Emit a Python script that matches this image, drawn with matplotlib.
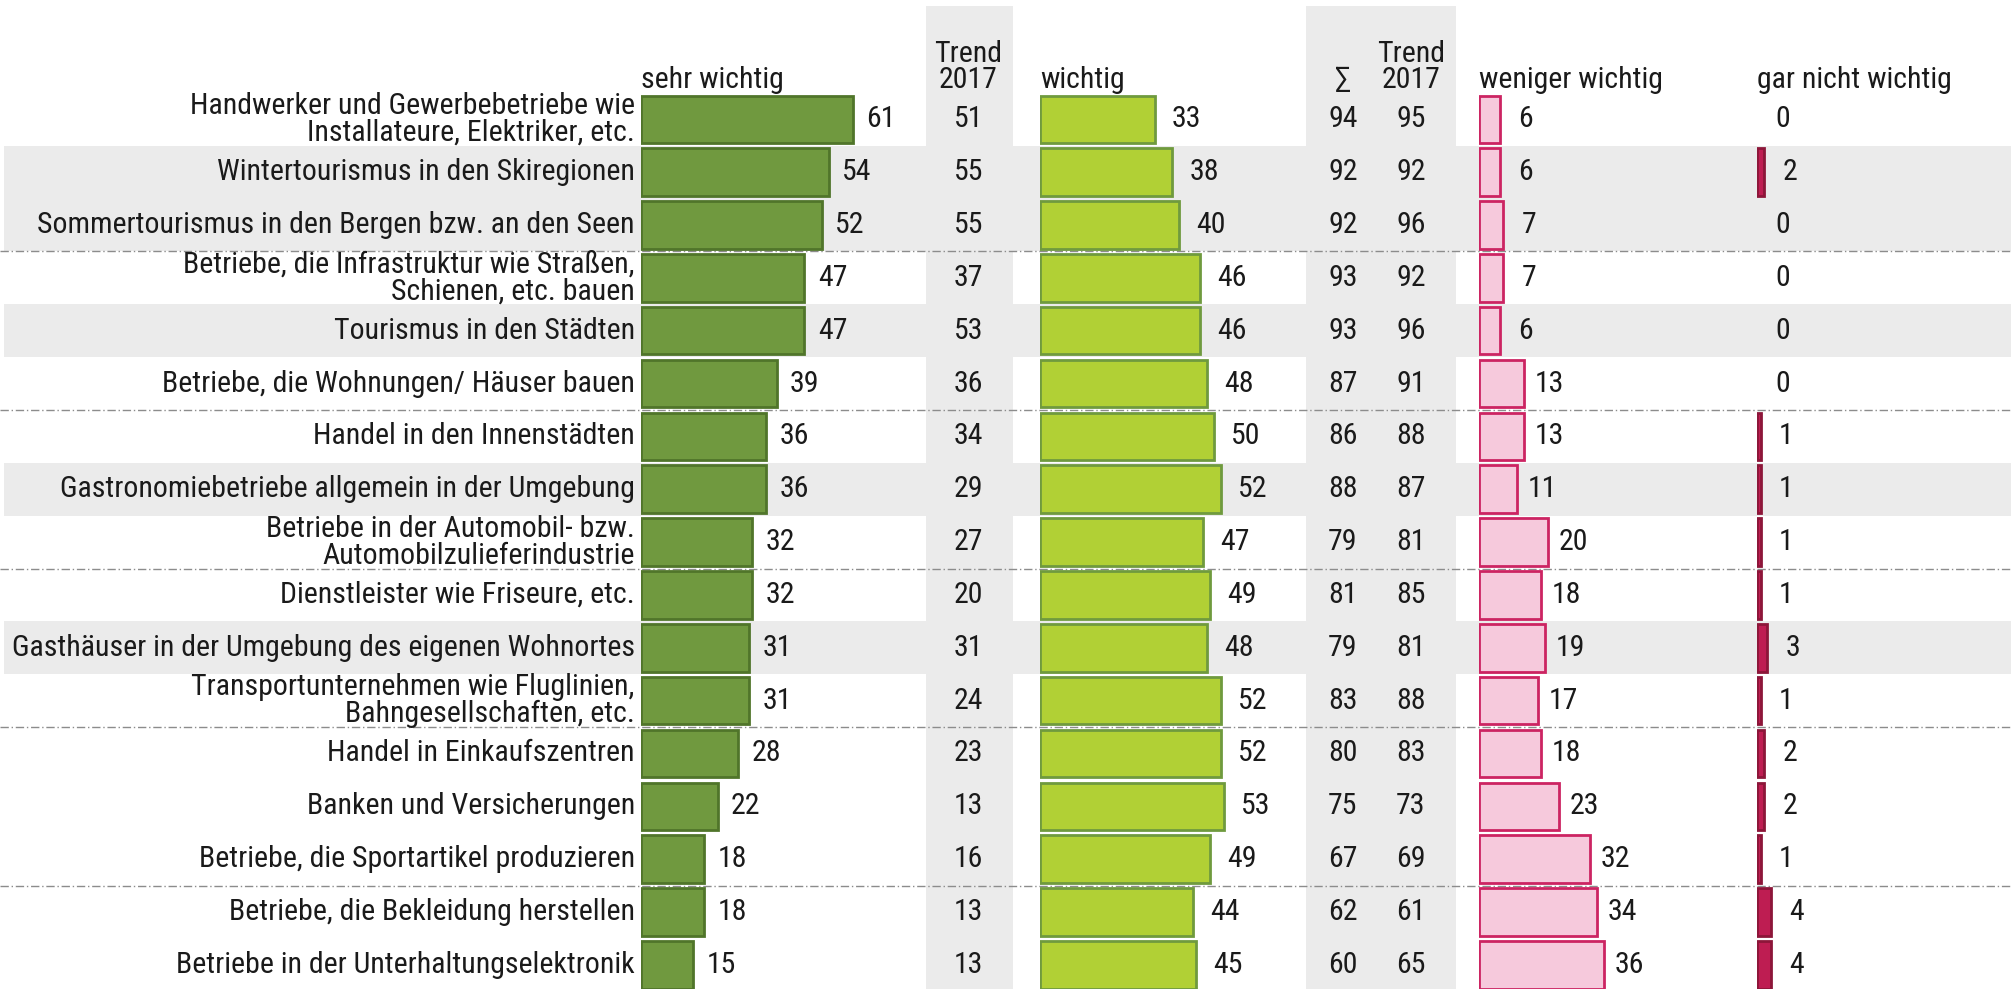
import matplotlib
matplotlib.use("Agg")
import matplotlib.pyplot as plt
from matplotlib import font_manager as fm

# ---------------- data ----------------
labels = [
    "Handwerker und Gewerbebetriebe wie\nInstallateure, Elektriker, etc.",
    "Wintertourismus in den Skiregionen",
    "Sommertourismus in den Bergen bzw. an den Seen",
    "Betriebe, die Infrastruktur wie Straßen,\nSchienen, etc. bauen",
    "Tourismus in den Städten",
    "Betriebe, die Wohnungen/ Häuser bauen",
    "Handel in den Innenstädten",
    "Gastronomiebetriebe allgemein in der Umgebung",
    "Betriebe in der Automobil- bzw.\nAutomobilzulieferindustrie",
    "Dienstleister wie Friseure, etc.",
    "Gasthäuser in der Umgebung des eigenen Wohnortes",
    "Transportunternehmen wie Fluglinien,\nBahngesellschaften, etc.",
    "Handel in Einkaufszentren",
    "Banken und Versicherungen",
    "Betriebe, die Sportartikel produzieren",
    "Betriebe, die Bekleidung herstellen",
    "Betriebe in der Unterhaltungselektronik",
]
sehr_wichtig = [61, 54, 52, 47, 47, 39, 36, 36, 32, 32, 31, 31, 28, 22, 18, 18, 15]
trend_sehr = [51, 55, 55, 37, 53, 36, 34, 29, 27, 20, 31, 24, 23, 13, 16, 13, 13]
wichtig = [33, 38, 40, 46, 46, 48, 50, 52, 47, 49, 48, 52, 52, 53, 49, 44, 45]
summe = [94, 92, 92, 93, 93, 87, 86, 88, 79, 81, 79, 83, 80, 75, 67, 62, 60]
trend_summe = [95, 92, 96, 92, 96, 91, 88, 87, 81, 85, 81, 88, 83, 73, 69, 61, 65]
weniger_wichtig = [6, 6, 7, 7, 6, 13, 13, 11, 20, 18, 19, 17, 18, 23, 32, 34, 36]
gar_nicht_wichtig = [0, 2, 0, 0, 0, 0, 1, 1, 1, 1, 3, 1, 2, 2, 1, 4, 4]

col_headers = ["sehr wichtig", "wichtig", "weniger wichtig", "gar nicht wichtig"]
trend_header = "Trend\n2017"
sum_header = "∑"
shaded_rows = [1, 2, 4, 7, 10]
separators = [2.5, 5.5, 8.5, 11.5, 14.5]

# ---------------- font ----------------
avail = {f.name for f in fm.fontManager.ttflist}
font = "DejaVu Sans"
stretch = "normal"
for cand in ["Liberation Sans Narrow", "DejaVu Sans Condensed", "Roboto Condensed",
             "Open Sans Condensed"]:
    if cand in avail:
        font = cand
        break
else:
    font = "DejaVu Sans"
    stretch = "condensed"
plt.rcParams["font.family"] = [font, "DejaVu Sans"]
FS = 21.5

# ---------------- layout ----------------
W, H = 1568.0, 771.0          # reference (display) units used for layout
fig = plt.figure(figsize=(20.11, 9.89), dpi=100)
n = len(labels)
row0, pitch = 93.0, 41.2
ylim = ((H - row0) / pitch, (0 - row0) / pitch)   # inverted: rows go down

def fx(x):
    return x / W

bg = fig.add_axes([0, 0, 1, 1])
bg.set_xlim(0, W)
bg.set_ylim(*ylim)
bg.axis("off")
band = "#ebebeb"
for r in shaded_rows:
    bg.add_patch(plt.Rectangle((3, r - 0.5), W - 3, 1.0, color=band, lw=0, zorder=0))
top_i = (5 - row0) / pitch
for x0, x1 in [(722, 790), (1018, 1135)]:
    bg.add_patch(plt.Rectangle((x0, top_i), x1 - x0, ylim[0] - top_i, color=band, lw=0, zorder=0))
for s in separators:
    bg.plot([0, W], [s, s], color="#8c8c8c", lw=1.0, ls=(0, (6, 2, 1, 2)), zorder=1)

txt = dict(fontsize=FS, color="#1a1a1a", fontstretch=stretch)

for i, lab in enumerate(labels):
    bg.text(495, i, lab, ha="right", va="center", linespacing=0.95, **txt)

for i in range(n):
    bg.text(755, i, str(trend_sehr[i]), ha="center", va="center", **txt)
    bg.text(1047, i, str(summe[i]), ha="center", va="center", **txt)
    bg.text(1100, i, str(trend_summe[i]), ha="center", va="center", **txt)
bg.text(755, -0.47, trend_header, ha="center", va="bottom", linespacing=0.95, **txt)
bg.text(1100, -0.47, trend_header, ha="center", va="bottom", linespacing=0.95, **txt)
bg.text(1047, -0.47, sum_header, ha="center", va="bottom", **txt)

scale = 2.705   # display px per percentage point
panels = [
    (500, sehr_wichtig, "#70993f", "#50752a", 22),
    (811, wichtig, "#b1d035", "#6f9a3e", 25),
    (1153, weniger_wichtig, "#f6c9dc", "#cc2462", 20),
    (1370, gar_nicht_wichtig, "#be1d52", "#8c1639", 20),
]
for (x0, vals, fc, ec, off), head in zip(panels, col_headers):
    ax = fig.add_axes([fx(x0), 0, fx(scale * 100), 1])
    ax.set_xlim(0, 100)
    ax.set_ylim(*ylim)
    ax.patch.set_alpha(0)
    ax.axis("off")
    lws = [2.0 if v > 0 else 0 for v in vals]
    ax.barh(range(n), vals, height=0.9, color=fc, edgecolor=ec, linewidth=lws, zorder=3)
    for i, v in enumerate(vals):
        ax.annotate(str(v), (v, i), xytext=(off * 0.923, 0), textcoords="offset points",
                    ha="center", va="center", **txt)
    ax.text(0, -0.47, head, ha="left", va="bottom", **txt)

fig.savefig("out.png", dpi=100)
